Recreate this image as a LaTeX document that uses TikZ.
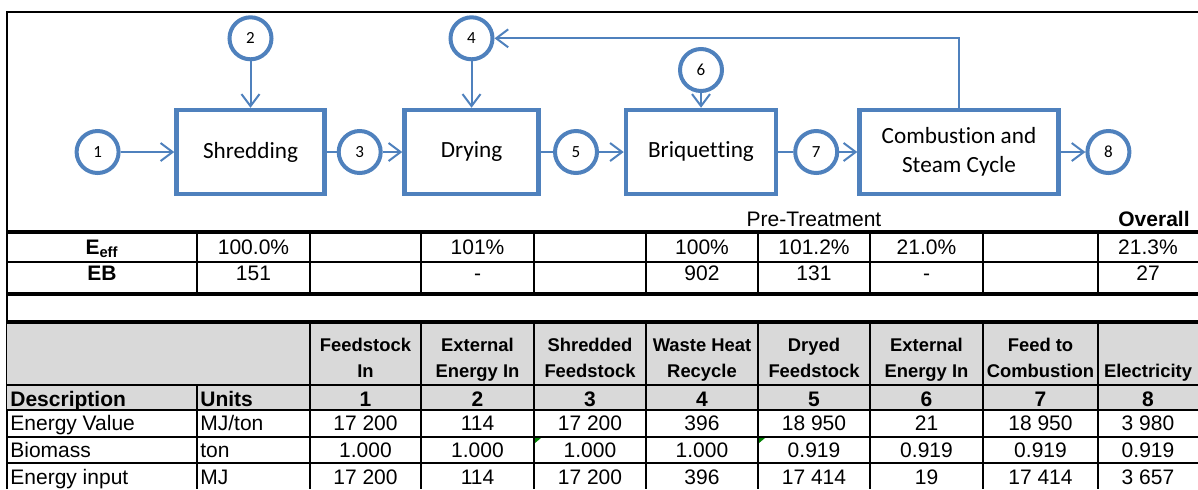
\documentclass[tikz,border=0pt]{standalone}
\usepackage{fontspec}
\setmainfont{Liberation Sans}
\newfontfamily\calibri[Ligatures=NoCommon]{Carlito}
\usetikzlibrary{arrows.meta,positioning}
\definecolor{flowblue}{HTML}{4F81BD}
\definecolor{hdrgrey}{HTML}{D9D9D9}
\definecolor{notegreen}{HTML}{008000}
\tikzset{
  unit/.style={draw=flowblue,line width=2.25pt,fill=white,minimum width=#1,minimum height=42pt,
    align=center,inner sep=0pt,font=\calibri\fontsize{11.6}{14.5}\selectfont},
  unit/.default=74pt,
  stream/.style={circle,draw=flowblue,line width=2pt,fill=white,minimum size=21pt,inner sep=0pt,
    font=\calibri\fontsize{8.5}{10}\selectfont},
  flow/.style={-{Straight Barb[length=6pt,width=9pt]},line width=1pt,draw=flowblue},
  link/.style={line width=1pt,draw=flowblue},
  cell/.style={anchor=base,inner sep=0pt,font=\fontsize{10.5}{12}\selectfont},
  bcell/.style={cell,font=\bfseries\fontsize{10.5}{12}\selectfont},
  hcell/.style={anchor=south,inner sep=0pt,text depth=0pt,align=center,font=\bfseries\fontsize{9.2}{13.3}\selectfont},
  rulethin/.style={line width=0.9pt},
  rulethick/.style={line width=1.6pt},
}

\begin{document}
\begin{tikzpicture}[x=0.5pt,y=-0.5pt]
  \useasboundingbox (0,0) rectangle (1198,489);
  % process chain
  \node[unit=74pt] (shred) at (250.5,152) {Shredding};
  \node[unit=67pt] (dry) at (471.5,152) {Drying};
  \node[unit=75pt] (briq) at (701,152) {Briquet\kern0pt ting};
  \node[unit=99.5pt] (comb) at (959,152) {Combustion and\\Steam Cycle};
  \node[stream] (s1) at (97.6,152) {1};
  \node[stream] (s2) at (250.5,38.3) {2};
  \node[stream] (s3) at (359.7,152) {3};
  \node[stream] (s4) at (471.5,38.3) {4};
  \node[stream] (s5) at (576,152) {5};
  \node[stream] (s6) at (701,70) {6};
  \node[stream] (s7) at (816.2,152) {7};
  \node[stream] (s8) at (1108.4,152) {8};
  \draw[flow] (s1) -- (shred); \draw[flow] (s2) -- (shred);
  \draw[link] (shred) -- (s3); \draw[flow] (s3) -- (dry); \draw[flow] (s4) -- (dry);
  \draw[link] (dry) -- (s5); \draw[flow] (s5) -- (briq); \draw[flow] (s6) -- (briq);
  \draw[link] (briq) -- (s7); \draw[flow] (s7) -- (comb); \draw[flow] (comb) -- (s8);
  \draw[flow] (comb.north) |- (s4);
  % frame and rules
  \draw[line width=1pt] (7,489) -- (7,12) -- (1198,12);
  \draw[rulethick] (7,232) -- (1198,232); \draw[rulethin] (7,262) -- (1198,262); \draw[rulethick] (7,294) -- (1198,294);
  \foreach \x in {197,310,421,534,646,758,870,983,1098} \draw[rulethin] (\x,232) -- (\x,294);
  \fill[hdrgrey] (7,322) rectangle (1198,410);
  \draw[rulethick] (7,322) -- (1198,322); \draw[rulethin] (7,385) -- (1198,385); \draw[line width=1.1pt] (7,410) -- (1198,410);
  \draw[rulethin] (7,437) -- (1198,437); \draw[rulethin] (7,463) -- (1198,463);
  \foreach \x in {310,421,534,646,758,870,983,1098} \draw[rulethin] (\x,322) -- (\x,489);
  \draw[rulethin] (197,385) -- (197,489);
  \fill[notegreen] (535,438) -- (541,438) -- (535,443) -- cycle;
  \fill[notegreen] (759,438) -- (765,438) -- (759,443) -- cycle;
  % efficiency rows
  \node[cell] (pretreat) at (814,226.7) {Pre-Treatment};
  \node[bcell,anchor=base east] (overall) at (1190,226.7) {Overall};
  \node[bcell] (eeff) at (102,254.3) {E\textsubscript{eff}};
  \node[bcell] (eb) at (102,280) {EB};
  \foreach \x/\v [count=\i] in {253.5/100.0\%,477.5/101\%,702/100\%,814/101.2\%,926.5/21.0\%,1148/21.3\%}
    \node[cell] (eff-\i) at (\x,254.3) {\v};
  \foreach \x/\v [count=\i] in {253.5/151,477.5/-,702/902,814/131,926.5/-,1148/27}
    \node[cell] (bal-\i) at (\x,280) {\v};
  % stream table
  \node[bcell,anchor=base west] (desc) at (10,406) {Description};
  \node[bcell,anchor=base west] (units) at (200,406) {Units};
  \node[cell,anchor=base west] (d1) at (10,430.7) {Energy Value};
  \node[cell,anchor=base west] (u1) at (200,430.7) {MJ/ton};
  \node[cell,anchor=base west] (d2) at (10,457.3) {Biomass};
  \node[cell,anchor=base west] (u2) at (200,457.3) {ton};
  \node[cell,anchor=base west] (d3) at (10,484) {Energy input};
  \node[cell,anchor=base west] (u3) at (200,484) {MJ};
  \foreach \x/\head/\a/\b/\e [count=\c] in {
      365.5/Feedstock\\In/17 200/1.000/17 200,
      477.5/External\\Energy In/114/1.000/114,
      590/Shredded\\Feedstock/17 200/1.000/17 200,
      702/Waste Heat\\Recycle/396/1.000/396,
      814/Dryed\\Feedstock/18 950/0.919/17 414,
      926.5/External\\Energy In/21/0.919/19,
      1040.5/Feed to\\Combustion/18 950/0.919/17 414,
      1148/Electricity/3 980/0.919/3 657} {
    \node[hcell] (head-\c) at (\x,378.3) {\head};
    \node[bcell] (num-\c) at (\x,406) {\c};
    \node[cell] (ev-\c) at (\x,430.7) {\a};
    \node[cell] (bm-\c) at (\x,457.3) {\b};
    \node[cell] (ei-\c) at (\x,484) {\e};
  }
\end{tikzpicture}
\end{document}
